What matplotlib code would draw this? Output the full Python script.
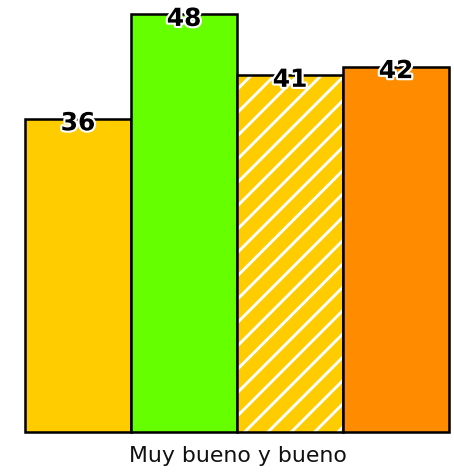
import matplotlib.pyplot as plt
import matplotlib.patheffects as pe

categories = ["A", "B", "C", "D"]
values = [36, 48, 41, 42]
colors = ["#FFCC00", "#66FF00", "#FFCC00", "#FF8C00"]
hatches = [None, None, "//", None]
group_label = "Muy bueno y bueno"

plt.rcParams["hatch.linewidth"] = 1.5

DPI = 140
fig = plt.figure(figsize=(454 / DPI, 472 / DPI), dpi=DPI)
ax = fig.add_axes([25 / 454, 1 - 432 / 472, 424 / 454, 432 / 472])

x = list(range(len(values)))
for xi, v, c, h in zip(x, values, colors, hatches):
    if h:
        # white hatch first, black outline on top
        ax.bar(xi, v, width=1.0, color=c, edgecolor="white", hatch=h, linewidth=0)
        ax.bar(xi, v, width=1.0, fill=False, edgecolor="black", linewidth=1.3,
               clip_on=False)
    else:
        ax.bar(xi, v, width=1.0, color=c, edgecolor="black", linewidth=1.3,
               clip_on=False)
    ax.annotate(str(v), (xi, v), xytext=(0, -2.3), textcoords="offset points",
                ha="center", va="center", fontsize=12.8, fontweight="bold",
                color="black",
                path_effects=[pe.withStroke(linewidth=2.2, foreground="white")])

ax.set_xlim(-0.5, 3.5)
ax.set_ylim(0, 49.66)
ax.axis("off")

fig.text(237.5 / 454, 1 - 456 / 472, group_label, ha="center", va="center",
         fontsize=11.3, color="#111111")

fig.savefig("out.png", dpi=DPI)
